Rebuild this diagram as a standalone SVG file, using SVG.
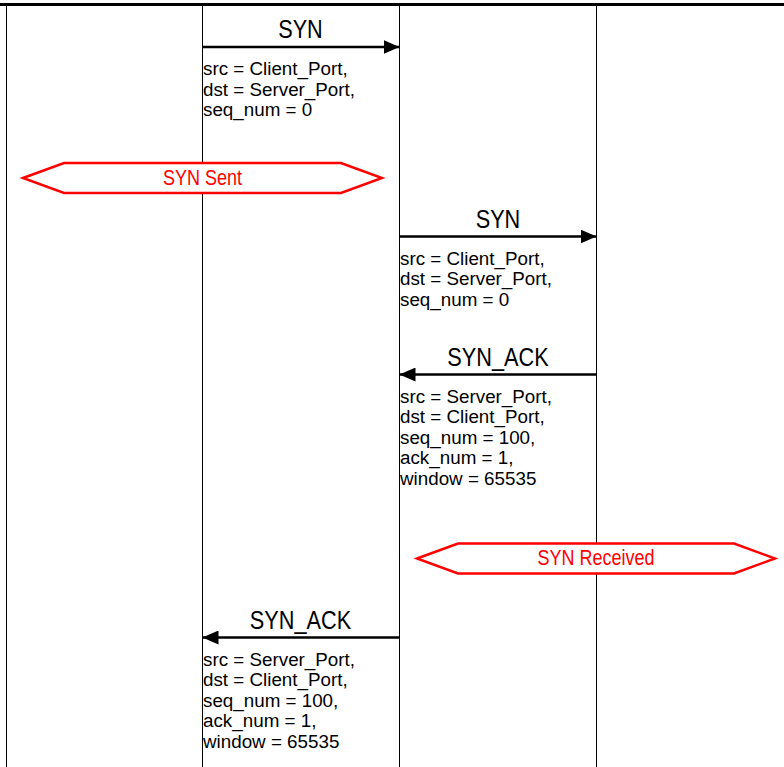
<svg xmlns="http://www.w3.org/2000/svg" width="784" height="767" viewBox="0 0 784 767">
<style>
.life{stroke:#000;stroke-width:1;fill:none}
.msg{stroke:#000;stroke-width:2.6;fill:none}
.lbl{font-family:"Liberation Sans",Arial,sans-serif;font-size:25px;fill:#000;text-anchor:middle}
.det{font-family:"Liberation Sans",Arial,sans-serif;font-size:18px;fill:#000}
.hex{fill:#fff;stroke:#f00;stroke-width:2.5}
.htxt{font-family:"Liberation Sans",Arial,sans-serif;font-size:22px;fill:#f00;text-anchor:middle}
</style>
<defs>
<marker id="ah" markerUnits="userSpaceOnUse" markerWidth="16" markerHeight="14" refX="16" refY="7" orient="auto">
<path d="M0,0 L16,7 L0,14 z" fill="#000"/>
</marker>
</defs>
<rect width="784" height="767" fill="#fff"/>
<g id="frame">
<line x1="0" y1="4.5" x2="784" y2="4.5" stroke="#000" stroke-width="3"/>
</g>
<g id="lifelines">
<line class="life" x1="6.5" y1="5" x2="6.5" y2="767"/>
<line class="life" x1="202.5" y1="5" x2="202.5" y2="767"/>
<line class="life" x1="399.5" y1="5" x2="399.5" y2="767"/>
<line class="life" x1="596.5" y1="5" x2="596.5" y2="767"/>
</g>
<g id="state-syn-sent">
<polygon class="hex" points="23,178 64,163 341,163 382,178 341,193 64,193"/>
<text class="htxt" x="202.5" y="185" textLength="79" lengthAdjust="spacingAndGlyphs">SYN Sent</text>
</g>
<g id="state-syn-received">
<polygon class="hex" points="417,558.5 458,543.5 734,543.5 775,558.5 734,573.5 458,573.5"/>
<text class="htxt" x="596" y="565" textLength="117" lengthAdjust="spacingAndGlyphs">SYN Received</text>
</g>
<g id="connectors">
<line class="msg" x1="202.5" y1="47" x2="399.5" y2="47" marker-end="url(#ah)"/>
<line class="msg" x1="399.5" y1="236.5" x2="596.5" y2="236.5" marker-end="url(#ah)"/>
<line class="msg" x1="596.5" y1="374.5" x2="399.5" y2="374.5" marker-end="url(#ah)"/>
<line class="msg" x1="399.5" y1="637.5" x2="202.5" y2="637.5" marker-end="url(#ah)"/>
</g>
<g id="msg1-labels">
<text class="lbl" x="300.5" y="38" textLength="44.6" lengthAdjust="spacingAndGlyphs">SYN</text>
<text class="det" x="203" y="75" textLength="144.7" lengthAdjust="spacingAndGlyphs">src = Client_Port,</text>
<text class="det" x="203" y="95.5" textLength="152" lengthAdjust="spacingAndGlyphs">dst = Server_Port,</text>
<text class="det" x="203" y="116" textLength="109.2" lengthAdjust="spacingAndGlyphs">seq_num = 0</text>
</g>
<g id="msg2-labels">
<text class="lbl" x="498" y="227.5" textLength="44.6" lengthAdjust="spacingAndGlyphs">SYN</text>
<text class="det" x="400" y="264.5" textLength="144.7" lengthAdjust="spacingAndGlyphs">src = Client_Port,</text>
<text class="det" x="400" y="285" textLength="152" lengthAdjust="spacingAndGlyphs">dst = Server_Port,</text>
<text class="det" x="400" y="305.5" textLength="109.2" lengthAdjust="spacingAndGlyphs">seq_num = 0</text>
</g>
<g id="msg3-labels">
<text class="lbl" x="498" y="365.5" textLength="101.3" lengthAdjust="spacingAndGlyphs">SYN_ACK</text>
<text class="det" x="400" y="402.5" textLength="152" lengthAdjust="spacingAndGlyphs">src = Server_Port,</text>
<text class="det" x="400" y="423" textLength="144.7" lengthAdjust="spacingAndGlyphs">dst = Client_Port,</text>
<text class="det" x="400" y="443.5" textLength="135.3" lengthAdjust="spacingAndGlyphs">seq_num = 100,</text>
<text class="det" x="400" y="464" textLength="113.4" lengthAdjust="spacingAndGlyphs">ack_num = 1,</text>
<text class="det" x="400" y="484.5" textLength="136.4" lengthAdjust="spacingAndGlyphs">window = 65535</text>
</g>
<g id="msg4-labels">
<text class="lbl" x="300.5" y="628.5" textLength="101.3" lengthAdjust="spacingAndGlyphs">SYN_ACK</text>
<text class="det" x="203" y="665.5" textLength="152" lengthAdjust="spacingAndGlyphs">src = Server_Port,</text>
<text class="det" x="203" y="686" textLength="144.7" lengthAdjust="spacingAndGlyphs">dst = Client_Port,</text>
<text class="det" x="203" y="706.5" textLength="135.3" lengthAdjust="spacingAndGlyphs">seq_num = 100,</text>
<text class="det" x="203" y="727" textLength="113.4" lengthAdjust="spacingAndGlyphs">ack_num = 1,</text>
<text class="det" x="203" y="747.5" textLength="136.4" lengthAdjust="spacingAndGlyphs">window = 65535</text>
</g>
</svg>
